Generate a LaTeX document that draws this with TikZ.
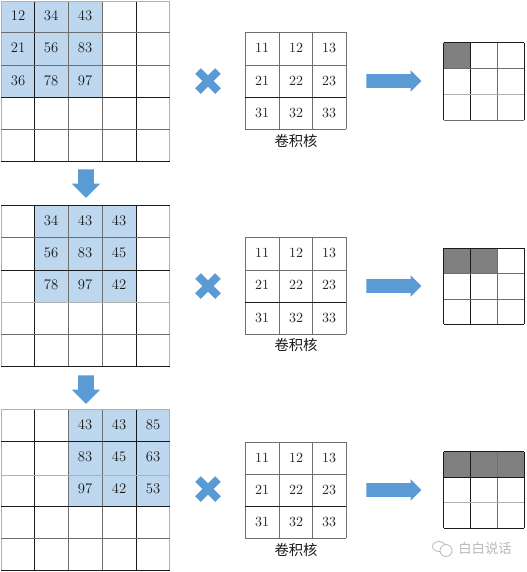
\documentclass[tikz,border=0pt]{standalone}
\usepackage{fontspec}
\usetikzlibrary{shapes.arrows}
\newfontfamily\cjk{Noto Sans CJK SC}
\definecolor{hl}{HTML}{BDD7EE}
\definecolor{blk}{HTML}{5B9BD5}
\definecolor{dk}{HTML}{1A1A1A}
\definecolor{md}{HTML}{6E6E6E}
\definecolor{lt}{HTML}{B0B0B0}
\definecolor{wm}{HTML}{B8B8B8}
\tikzset{
  x=0.75pt,y=-0.75pt,
  gridline/.style={line width=0.75pt},
  num/.style={font=\fontsize{11}{12}\selectfont,text=black!90,inner sep=0pt},
  kernnum/.style={font=\fontsize{10.5}{12}\selectfont,text=black!85,inner sep=0pt},
  caption/.style={font=\cjk\fontsize{10.75}{12}\selectfont,text=black!90,inner sep=0pt},
  downblock/.style={single arrow,draw=none,fill=blk,shape border rotate=270,anchor=tail,minimum height=21.5pt,minimum width=0pt,text height=0pt,text depth=0pt,text width=11.25pt,single arrow head extend=4.9pt,single arrow tip angle=90,inner sep=0pt},
  rightblock/.style={single arrow,draw=none,fill=blk,anchor=tail,minimum height=41.25pt,minimum width=0pt,text height=9.75pt,text depth=0pt,text width=0pt,single arrow head extend=3pt,single arrow tip angle=90,inner sep=0pt},
  timesmark/.style={line width=6pt,draw=blk},
  watermark/.style={font=\cjk\fontsize{10}{11}\selectfont,text=wm,inner sep=0pt},
}
\newcommand{\vlinesat}[3]{%
  \foreach \xx/\cc in {#1}{\draw[gridline,draw=\cc] (\xx,#2) -- (\xx,#3);}}
\newcommand{\hlinesat}[3]{%
  \foreach \yy/\cc in {#1}{\draw[gridline,draw=\cc] (#2,\yy) -- (#3,\yy);}}
\begin{document}
\begin{tikzpicture}
\useasboundingbox (0,0) rectangle (527,572);
% ---------- row 1 ----------
\fill[hl] (1,1) rectangle (102,97);
\vlinesat{1/lt,34/dk,68/md,102/md,136/dk,169/lt}{1}{161}
\hlinesat{1/lt,32/md,65/md,97/dk,129/md,161/dk}{1}{169.5}
\foreach \t/\n/\px/\py in {12/a1/18/16,34/a2/51/16,43/a3/85/16,21/a4/18/48,56/a5/51/48,83/a6/85/48,36/a7/18/81,78/a8/51/81,97/a9/85/81}
  \node[num] (\n) at (\px,\py) {\t};
\vlinesat{245/md,279/md,312/md,346/md}{32}{129}
\hlinesat{32/md,65/md,97/dk,129/md}{245}{346}
\foreach \t/\n/\px/\py in {11/k1/262/48,12/k2/296/48,13/k3/329/48,21/k4/262/81,22/k5/296/81,23/k6/329/81,31/k7/262/113,32/k8/296/113,33/k9/329/113}
  \node[kernnum] (\n) at (\px,\py) {\t};
\node[caption] (c1) at (296,141) {卷积核};
\fill[black!50] (443.5,42.5) rectangle (470.5,68.5);
\vlinesat{443.5/dk,470.5/dk,497/md,524/dk}{42.5}{120}
\hlinesat{42.5/dk,68.5/md,94/lt,120/md}{443.5}{524}
\draw[timesmark] (198,71) -- (218,91) (218,71) -- (198,91);
\node[rightblock] (r1) at (366,81) {};
\node[downblock] (d1) at (86,169) {};
% ---------- row 2 ----------
\fill[hl] (34,205) rectangle (136,302);
\vlinesat{1/lt,34/dk,68/md,102/md,136/dk,169/lt}{205}{366}
\hlinesat{205/dk,237/md,270/dk,302/lt,334/md,366/dk}{1}{169.5}
\foreach \t/\n/\px/\py in {34/b1/51/221,43/b2/85/221,43/b3/119/221,56/b4/51/253,83/b5/85/253,45/b6/119/253,78/b7/51/285,97/b8/85/285,42/b9/119/285}
  \node[num] (\n) at (\px,\py) {\t};
\vlinesat{245/md,279/md,312/md,346/md}{237}{334}
\hlinesat{237/md,270/md,302/dk,334/md}{245}{346}
\foreach \t/\n/\px/\py in {11/l1/262/253,12/l2/296/253,13/l3/329/253,21/l4/262/285,22/l5/296/285,23/l6/329/285,31/l7/262/318,32/l8/296/318,33/l9/329/318}
  \node[kernnum] (\n) at (\px,\py) {\t};
\node[caption] (c2) at (296,345) {卷积核};
\fill[black!50] (443.5,248) rectangle (497,273);
\vlinesat{443.5/dk,470.5/dk,497/md,524/dk}{248}{324}
\hlinesat{248/dk,273/md,299/md,324/dk}{443.5}{524}
\draw[timesmark] (198,276) -- (218,296) (218,276) -- (198,296);
\node[rightblock] (r2) at (366,286) {};
\node[downblock] (d2) at (86,375) {};
% ---------- row 3 ----------
\fill[hl] (68,409) rectangle (169,506);
\vlinesat{1/lt,34/dk,68/md,102/md,136/dk,169/lt}{409}{570}
\hlinesat{409/lt,441/dk,475/lt,506/dk,538/md,570/dk}{1}{169.5}
\foreach \t/\n/\px/\py in {43/e1/85/425,43/e2/119/425,85/e3/153/425,83/e4/85/457,45/e5/119/457,63/e6/153/457,97/e7/85/489,42/e8/119/489,53/e9/153/489}
  \node[num] (\n) at (\px,\py) {\t};
\vlinesat{245/md,279/md,312/md,346/md}{442}{538}
\hlinesat{442/md,474/md,506/dk,538/md}{245}{346}
\foreach \t/\n/\px/\py in {11/m1/262/458,12/m2/296/458,13/m3/329/458,21/m4/262/490,22/m5/296/490,23/m6/329/490,31/m7/262/522,32/m8/296/522,33/m9/329/522}
  \node[kernnum] (\n) at (\px,\py) {\t};
\node[caption] (c3) at (296,550) {卷积核};
\fill[black!50] (443.5,451.5) rectangle (524,477);
\vlinesat{443.5/dk,470.5/dk,497/md,524/dk}{451.5}{528}
\hlinesat{451.5/dk,477/dk,502/lt,528/dk}{443.5}{524}
\draw[timesmark] (198,479) -- (218,499) (218,479) -- (198,499);
\node[rightblock] (r3) at (366,490) {};
% ---------- watermark ----------
\draw[wm,line width=0.6pt] (439,546.5) ellipse (6.5 and 5);
\draw[wm,line width=0.6pt,fill=white] (446,550.5) ellipse (6 and 6);
\node[watermark] (wmk) at (485,548) {白白说话};
\end{tikzpicture}
\end{document}
